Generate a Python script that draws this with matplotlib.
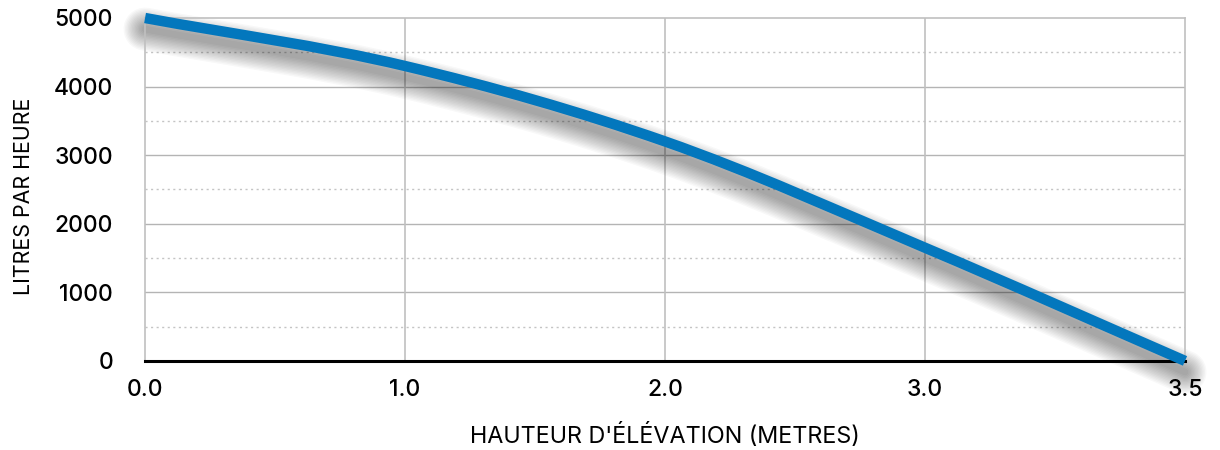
import numpy as np
import matplotlib
matplotlib.use("Agg")
import matplotlib.pyplot as plt
from matplotlib.path import Path
from matplotlib.patches import PathPatch
from matplotlib import transforms

plt.rcParams['font.family'] = ['Inter', 'DejaVu Sans']

hauteur_labels = ["0.0", "1.0", "2.0", "3.0", "3.5"]
litres_heure = [5000, 4300, 3200, 1650, 0]

y_major = [0, 1000, 2000, 3000, 4000, 5000]
y_minor = [500, 1500, 2500, 3500, 4500]

blue = "#0377bd"


def smooth_path(xs, ys):
    # courbe lissee (hermite -> bezier) passant par les points
    n = len(xs)
    m = []
    for i in range(n):
        if i == 0:
            m.append((ys[1] - ys[0]) / (xs[1] - xs[0]))
        elif i == n - 1:
            m.append((ys[-1] - ys[-2]) / (xs[-1] - xs[-2]))
        else:
            m.append((ys[i + 1] - ys[i - 1]) / (xs[i + 1] - xs[i - 1]))
    verts = [(xs[0], ys[0])]
    codes = [Path.MOVETO]
    for i in range(n - 1):
        dx = (xs[i + 1] - xs[i]) / 3.0
        verts += [(xs[i] + dx, ys[i] + m[i] * dx),
                  (xs[i + 1] - dx, ys[i + 1] - m[i + 1] * dx),
                  (xs[i + 1], ys[i + 1])]
        codes += [Path.CURVE4] * 3
    return Path(verts, codes)


fig = plt.figure(figsize=(12.2, 4.5), dpi=100)
ax = fig.add_axes([0.1189, 0.198, 0.8524, 0.762])

xs = list(range(len(hauteur_labels)))
path = smooth_path(xs, litres_heure)

# ombre floue sous la courbe
for k in range(14):
    off = transforms.offset_copy(ax.transData, fig=fig, x=0, y=-8, units='points')
    ax.add_patch(PathPatch(path, facecolor='none', edgecolor='black',
                           linewidth=5 + 2.0 * k, alpha=0.026,
                           capstyle='round', transform=off, clip_on=False, zorder=2))

ax.add_patch(PathPatch(path, facecolor='none', edgecolor=blue, linewidth=7.5,
                       capstyle='butt', clip_on=False, zorder=4))

ax.set_xlim(0, len(hauteur_labels) - 1)
ax.set_ylim(0, 5000)
ax.set_xticks(xs)
ax.set_xticklabels(hauteur_labels)
ax.set_yticks(y_major)
ax.set_yticks(y_minor, minor=True)

for y in y_major[1:-1]:
    ax.axhline(y, color='#b4b4b4', linewidth=1.0, zorder=1)
for y in y_minor:
    ax.axhline(y, color='#c4c4c4', linewidth=1.0, linestyle=(0, (1.5, 2.5)), zorder=1)
for x in xs[1:-1]:
    ax.axvline(x, color='#c0c0c0', linewidth=1.2, zorder=1)

for side in ['top', 'right', 'left']:
    ax.spines[side].set_color('#c0c0c0')
    ax.spines[side].set_linewidth(1.2)
ax.spines['bottom'].set_color('black')
ax.spines['bottom'].set_linewidth(2.2)
ax.spines['bottom'].set_zorder(3)

ax.tick_params(axis='both', which='both', length=0, labelsize=16.5, colors='black')
ax.tick_params(axis='x', pad=13)
ax.tick_params(axis='y', pad=23)
for lbl in ax.get_xticklabels() + ax.get_yticklabels():
    lbl.set_fontweight(500)

ax.set_xlabel("HAUTEUR D'ÉLÉVATION (METRES)", fontsize=16.8, labelpad=16)
ax.set_ylabel("LITRES PAR HEURE", fontsize=15.4, va='center')
ax.yaxis.set_label_coords(-0.116, 0.48)

fig.savefig("out.png", dpi=100)
